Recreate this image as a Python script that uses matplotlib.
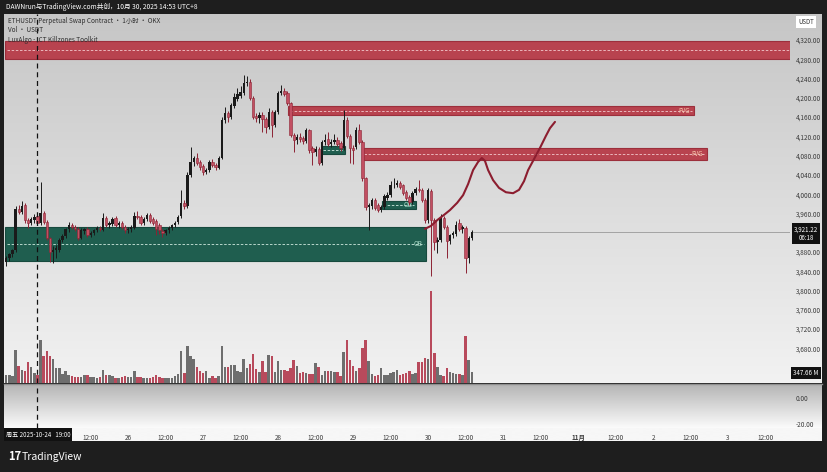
"""ETHUSDT 1h chart with ICT zones, TradingView look."""

import matplotlib
matplotlib.use("Agg")
import matplotlib.pyplot as plt
import numpy as np
from matplotlib.colors import LinearSegmentedColormap
from matplotlib.patches import Rectangle

plt.rcParams["font.family"] = ["Noto Sans CJK SC", "DejaVu Sans"]

# hourly candles, index 0 = Oct 24 09:00, index 10 = Oct 24 19:00, last = Oct 30 14:00
opens = [
    3859, 3868, 3876, 3884, 3970, 3962, 3977, 3946, 3940, 3946,
    3955, 3940, 3960, 3942, 3908, 3880, 3885, 3884, 3905, 3914,
    3928, 3935, 3932, 3928, 3910, 3924, 3928, 3915, 3920, 3926,
    3930, 3926, 3950, 3936, 3938, 3950, 3935, 3940, 3932, 3925,
    3927, 3930, 3955, 3952, 3940, 3948, 3956, 3948, 3945, 3935,
    3924, 3920, 3925, 3930, 3936, 3942, 3955, 3982, 3976, 4040,
    4066, 4076, 4066, 4058, 4046, 4050, 4066, 4060, 4055, 4075,
    4154, 4168, 4160, 4182, 4198, 4203, 4210, 4230, 4232, 4200,
    4162, 4158, 4165, 4155, 4140, 4170, 4143, 4170, 4210, 4214,
    4210, 4189, 4122, 4112, 4118, 4116, 4110, 4133, 4095, 4088,
    4094, 4064, 4108, 4114, 4104, 4108, 4112, 4106, 4096, 4154,
    4120, 4096, 4098, 4133, 4108, 4033, 3973, 3975, 3988, 3978,
    3968, 3974, 3992, 3998, 4018, 4020, 4024, 4018, 4004, 3995,
    3983, 4002, 4010, 4008, 3987, 3946, 4006, 3946, 3900, 3905,
    3950, 3932, 3902, 3915, 3918, 3940, 3928, 3930, 3867, 3910,
]
highs = [
    3872, 3878, 3887, 3975, 3978, 3985, 3982, 3950, 3952, 3958,
    3960, 4025, 3966, 3946, 3912, 3892, 3895, 3910, 3918, 3930,
    3942, 3940, 3936, 3932, 3930, 3930, 3932, 3924, 3928, 3933,
    3934, 3960, 3955, 3944, 3952, 3954, 3944, 3944, 3936, 3932,
    3936, 3963, 3965, 3956, 3952, 3960, 3960, 3952, 3948, 3940,
    3928, 3928, 3933, 3939, 3944, 3956, 4008, 3988, 4045, 4097,
    4080, 4085, 4070, 4062, 4055, 4070, 4072, 4064, 4080, 4160,
    4180, 4172, 4190, 4210, 4220, 4225, 4247, 4245, 4240, 4204,
    4168, 4170, 4170, 4160, 4178, 4175, 4175, 4214, 4226, 4220,
    4214, 4192, 4126, 4124, 4126, 4120, 4138, 4136, 4100, 4100,
    4098, 4112, 4125, 4130, 4114, 4125, 4118, 4110, 4174, 4160,
    4124, 4102, 4140, 4145, 4112, 4036, 3982, 3992, 3992, 3982,
    3978, 4000, 4004, 4028, 4033, 4030, 4028, 4022, 4008, 3999,
    4006, 4014, 4030, 4012, 3992, 4012, 4010, 3950, 3912, 3958,
    3955, 3936, 3918, 3924, 3945, 3948, 3936, 3934, 3914, 3925,
]
lows = [
    3850, 3862, 3870, 3880, 3958, 3958, 3940, 3930, 3936, 3940,
    3936, 3936, 3938, 3904, 3860, 3858, 3868, 3880, 3900, 3908,
    3922, 3928, 3924, 3905, 3906, 3918, 3912, 3912, 3916, 3922,
    3924, 3924, 3932, 3930, 3934, 3932, 3930, 3928, 3919, 3920,
    3922, 3928, 3948, 3936, 3936, 3944, 3940, 3936, 3915, 3918,
    3912, 3916, 3920, 3926, 3932, 3938, 3950, 3970, 3972, 4036,
    4058, 4060, 4050, 4040, 4042, 4046, 4056, 4050, 4052, 4072,
    4148, 4150, 4156, 4178, 4194, 4200, 4206, 4224, 4196, 4156,
    4150, 4148, 4129, 4128, 4136, 4118, 4140, 4166, 4206, 4204,
    4186, 4118, 4087, 4104, 4108, 4104, 4106, 4086, 4060, 4080,
    4060, 4060, 4102, 4100, 4098, 4104, 4100, 4090, 4092, 4116,
    4064, 4062, 4094, 4104, 4028, 3967, 3925, 3970, 3968, 3962,
    3962, 3970, 3988, 3994, 4012, 4014, 4010, 3998, 3988, 3978,
    3980, 3998, 4004, 3984, 3940, 3940, 3831, 3885, 3878, 3900,
    3928, 3867, 3896, 3910, 3914, 3924, 3920, 3836, 3858, 3905,
]
closes = [
    3868, 3876, 3884, 3970, 3962, 3975, 3946, 3940, 3948, 3952,
    3940, 3960, 3942, 3908, 3880, 3885, 3888, 3905, 3914, 3928,
    3935, 3932, 3928, 3910, 3926, 3927, 3915, 3920, 3926, 3930,
    3928, 3950, 3936, 3940, 3948, 3935, 3940, 3932, 3925, 3928,
    3932, 3955, 3952, 3940, 3948, 3956, 3945, 3940, 3927, 3925,
    3920, 3925, 3930, 3936, 3940, 3952, 3982, 3976, 4040, 4066,
    4075, 4064, 4056, 4046, 4050, 4066, 4060, 4056, 4075, 4154,
    4168, 4160, 4185, 4201, 4208, 4212, 4230, 4233, 4200, 4160,
    4158, 4165, 4155, 4140, 4170, 4143, 4170, 4210, 4214, 4208,
    4189, 4122, 4112, 4118, 4114, 4110, 4133, 4091, 4088, 4094,
    4064, 4108, 4112, 4104, 4108, 4112, 4104, 4096, 4154, 4120,
    4096, 4092, 4133, 4108, 4033, 3973, 3978, 3988, 3972, 3967,
    3974, 3997, 3998, 4018, 4020, 4024, 4015, 4002, 3992, 3983,
    4002, 4010, 4008, 3987, 3946, 4008, 3946, 3900, 3905, 3950,
    3932, 3902, 3915, 3920, 3936, 3928, 3932, 3867, 3910, 3921.22,
]
# volume in millions of USDT
volumes = [
    264, 264, 231, 1089, 561, 429, 396, 693, 528, 330,
    264, 1419, 891, 1056, 891, 792, 495, 495, 297, 396,
    264, 231, 198, 198, 198, 264, 264, 198, 198, 165,
    198, 429, 264, 264, 231, 165, 165, 198, 231, 198,
    198, 396, 198, 198, 165, 165, 165, 198, 264, 198,
    165, 165, 165, 165, 231, 297, 1056, 330, 1221, 891,
    792, 528, 396, 330, 396, 165, 231, 165, 231, 1221,
    528, 528, 594, 594, 396, 363, 792, 495, 627, 957,
    462, 363, 726, 363, 924, 891, 363, 726, 429, 429,
    396, 495, 759, 561, 330, 363, 330, 297, 297, 660,
    528, 264, 396, 396, 396, 363, 363, 231, 1023, 1419,
    759, 561, 396, 495, 1155, 1419, 726, 297, 231, 264,
    495, 264, 264, 330, 363, 429, 264, 297, 330, 396,
    297, 330, 693, 693, 825, 792, 3036, 990, 528, 264,
    231, 495, 363, 330, 297, 297, 264, 1551, 759, 347.66,
]

# zones: (start index, end index, low price, high price)
supply_zone = (-0.4, 251.0, 4280, 4318)
fvg_zones = [(90.2, 220.1, 4164, 4182), (113.9, 224.2, 4071, 4095)]
ob_zones = [(-0.4, 134.3, 3861, 3932), (120.2, 131.1, 3969, 3986), (101.0, 108.4, 4083, 4100)]
ob_labels = ["OB", "OB", ""]

# hand-drawn projection path
path_hours = [134.0, 135.9, 137.9, 140.1, 142.0, 144.3, 146.2, 147.8, 149.4, 151.0,
              152.2, 153.2, 154.2, 155.8, 157.7, 159.9, 162.2, 164.1, 165.7, 167.0,
              168.9, 170.8, 172.7, 174.0, 175.6]
path_prices = [3928, 3934, 3946, 3957, 3967, 3982, 3998, 4021, 4050, 4067,
               4075, 4069, 4050, 4029, 4013, 4004, 4002, 4009, 4027, 4050,
               4073, 4096, 4121, 4137, 4150]

price_ticks = [4320, 4280, 4240, 4200, 4160, 4120, 4080, 4040, 4000, 3960,
               3880, 3840, 3800, 3760, 3720, 3680]
time_labels = ["12:00", "26", "12:00", "27", "12:00", "28", "12:00", "29", "12:00",
               "30", "12:00", "31", "12:00", "11月", "12:00", "2", "12:00", "3", "12:00"]
time_positions = [27 + 12 * k for k in range(len(time_labels))]

W, H = 828, 472
UP = "#1a1a1a"
DOWN_BODY = "#c24f62"
DOWN_EDGE = "#8c2233"
TXT = "#3a3a3a"


def px_axes(fig, x0, y0, x1, y1):
    return fig.add_axes([x0 / W, 1 - y1 / H, (x1 - x0) / W, (y1 - y0) / H])


def gradient(fig, box, top, bottom):
    bg = px_axes(fig, *box)
    cmap = LinearSegmentedColormap.from_list("g", [top, bottom])
    bg.imshow(np.linspace(0, 1, 256).reshape(-1, 1), cmap=cmap, aspect="auto",
              extent=[0, 1, 0, 1])
    bg.axis("off")
    return bg


def ftext(fig, x, y, s, **kw):
    fig.text(x / W, 1 - y / H, s, **kw)


fig = plt.figure(figsize=(W / 100, H / 100), dpi=100, facecolor="#1e1e1e")

gradient(fig, (4, 14, 822, 383), "#c6c6c6", "#f2f2f2")
gradient(fig, (4, 384, 822, 428), "#b4b4b4", "#fbfbfb")
gradient(fig, (4, 428, 822, 441), "#f7f7f7", "#f7f7f7")

ax = px_axes(fig, 4, 14, 790, 383)
ax.set_facecolor("none")
xlim = (-0.7, 250.8)
ax.set_xlim(*xlim)
ax.set_ylim(3608, 4374)

o = np.array(opens)
h = np.array(highs)
l = np.array(lows)
c = np.array(closes)
v = np.array(volumes)
idx = np.arange(len(o))
up = c >= o

# volume overlay
vax = ax.twinx()
vax.set_ylim(0, 12200)
vax.set_xlim(*xlim)
vax.bar(idx[up], v[up], width=0.8, color="#6e6e6e", zorder=1)
vax.bar(idx[~up], v[~up], width=0.8, color="#b84a5c", zorder=1)
vax.axis("off")
ax.set_zorder(vax.get_zorder() + 1)


def zone(a, x0, x1, lo, hi, face, edge, dash, label=None, label_color=None):
    a.add_patch(Rectangle((x0, lo), x1 - x0, hi - lo, facecolor=face, edgecolor=edge,
                          linewidth=0.8, zorder=2))
    mid = (lo + hi) / 2
    a.plot([x0 + 0.5, x1 - 0.5], [mid, mid], color=dash, lw=0.6, ls=(0, (3, 2)), zorder=3)
    if label:
        a.text(x1 - 1.2, mid, label, color=label_color, fontsize=4.6, ha="right",
               va="center", zorder=4)


zone(ax, *supply_zone, "#b8434f", "#9c2f3c", "#f2c9cd")
for z in fvg_zones:
    zone(ax, *z, "#b8434f", "#9c2f3c", "#f2c9cd", "FVG", "#f6c7ab")
for z, lab in zip(ob_zones, ob_labels):
    zone(ax, *z, "#1f5e4f", "#174a3e", "#cfe9df", lab, "#a9dcc8")

# candles
ax.vlines(idx[up], l[up], h[up], color=UP, lw=0.7, zorder=5)
ax.vlines(idx[~up], l[~up], h[~up], color=DOWN_EDGE, lw=0.7, zorder=5)
body_lo = np.minimum(o, c)
body_h = np.maximum(np.abs(c - o), 1.5)
ax.bar(idx[up], body_h[up], bottom=body_lo[up], width=0.76, color=UP, zorder=6)
ax.bar(idx[~up], body_h[~up], bottom=body_lo[~up], width=0.76, color=DOWN_BODY,
       edgecolor=DOWN_EDGE, linewidth=0.4, zorder=6)

# projection path
ax.plot(path_hours, path_prices, color="#8c1d2f", lw=1.5, solid_capstyle="round",
        solid_joinstyle="round", zorder=7)

# last price line
ax.plot([idx[-1], xlim[1]], [c[-1], c[-1]], color="#8a8a8a", lw=0.5, zorder=4)

# crosshair dashed line at Oct 24 19:00
ax.axvline(10, color="#111111", lw=0.9, ls=(0, (4, 3)), zorder=8)

ax.yaxis.tick_right()
ax.set_yticks(price_ticks)
ax.set_yticklabels([f"{p:,.2f}" for p in price_ticks], fontsize=4.6, color=TXT)
ax.tick_params(axis="y", length=0, pad=4)
ax.set_xticks([])
for s in ax.spines.values():
    s.set_visible(False)
for s in vax.spines.values():
    s.set_visible(False)

# lower pane
lo_ax = px_axes(fig, 4, 384, 790, 428)
lo_ax.set_facecolor("none")
lo_ax.set_xlim(*xlim)
lo_ax.set_ylim(-23.1, 10.8)
lo_ax.axvline(10, color="#111111", lw=0.9, ls=(0, (4, 3)))
lo_ax.yaxis.tick_right()
lo_ax.set_yticks([0, -20])
lo_ax.set_yticklabels(["0.00", "-20.00"], fontsize=4.6, color=TXT)
lo_ax.tick_params(axis="y", length=0, pad=4)
lo_ax.set_xticks(time_positions)
lo_ax.set_xticklabels(time_labels, fontsize=4.6, color=TXT)
lo_ax.get_xticklabels()[13].set_fontweight("bold")
lo_ax.tick_params(axis="x", length=0, pad=4)
for s in lo_ax.spines.values():
    s.set_visible(False)

# pane separator
fig.add_artist(plt.Line2D([4 / W, 822 / W], [1 - 383.5 / H] * 2, color="#8f8f8f", lw=1))

# header and legend text
ftext(fig, 6, 7, "DAWNrun与TradingView.com共创，10月 30, 2025 14:53 UTC+8", color="white",
      fontsize=4.8, va="center")
legend_lines = ["ETHUSDT Perpetual Swap Contract · 1小时 · OKX", "Vol · USDT",
                "LuxAlgo - ICT Killzones Toolkit"]
for k, line in enumerate(legend_lines):
    ftext(fig, 8, 21 + 9.3 * k, line, color="#2e2e2e", fontsize=4.6, va="center")

# price scale badges
ftext(fig, 806, 22, "USDT", color="#333333", fontsize=4.4, ha="center", va="center",
      bbox=dict(boxstyle="square,pad=0.35", fc="white", ec="none"))
ftext(fig, 806, 233.5, f"{c[-1]:,.2f}\n06:18", color="white", fontsize=4.4, ha="center",
      va="center", linespacing=1.1, bbox=dict(boxstyle="square,pad=0.3", fc="#111111", ec="none"))
ftext(fig, 806, 373, f"{v[-1]:.2f} M", color="white", fontsize=4.4, ha="center",
      va="center", bbox=dict(boxstyle="square,pad=0.3", fc="#111111", ec="none"))

# time crosshair badge
ftext(fig, 38, 434.5, "周五 2025-10-24   19:00", color="white", fontsize=4.4, ha="center",
      va="center", bbox=dict(boxstyle="square,pad=0.35", fc="#111111", ec="none"))

# footer logo
ftext(fig, 8, 457, "17", color="white", fontsize=8, fontweight="bold", va="center")
ftext(fig, 22, 457, "TradingView", color="white", fontsize=7.5, va="center")

fig.savefig("out.png", dpi=100, facecolor=fig.get_facecolor())
